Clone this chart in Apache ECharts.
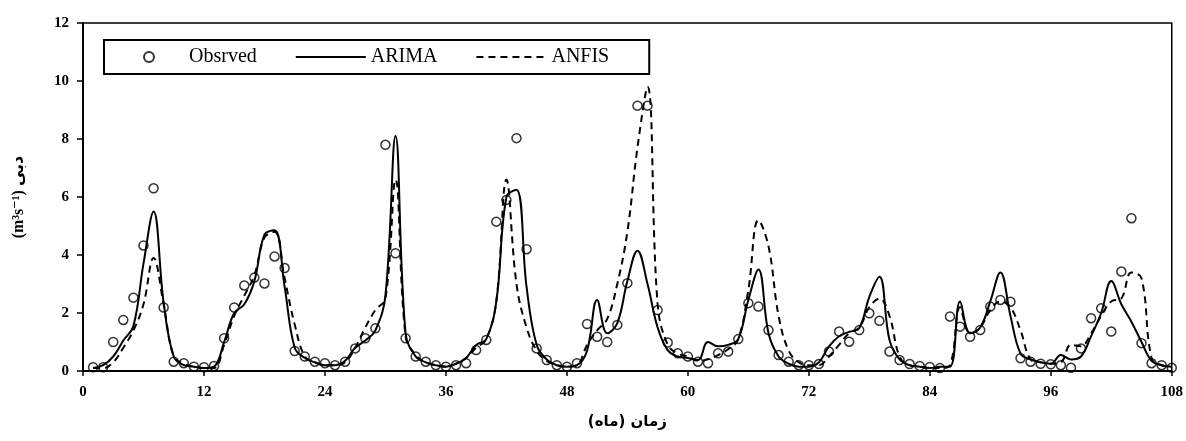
<!DOCTYPE html>
<html>
<head>
<meta charset="utf-8">
<script src="https://cdn.jsdelivr.net/npm/echarts@6/dist/echarts.min.js"></script>
<style>
  html, body { margin: 0; padding: 0; background: #fff; }
  #chart { width: 1186px; height: 441px; }
</style>
</head>
<body>
<div id="chart"></div>
<script>
// monthly discharge, months 1..108
const observed = [
  0.13, 0.13, 1.0, 1.76, 2.53, 4.33, 6.3, 2.19, 0.32, 0.27,
  0.15, 0.13, 0.17, 1.13, 2.19, 2.95, 3.22, 3.02, 3.95, 3.55,
  0.69, 0.5, 0.32, 0.27, 0.2, 0.32, 0.78, 1.13, 1.47, 7.8,
  4.06, 1.13, 0.5, 0.32, 0.2, 0.15, 0.2, 0.27, 0.72, 1.07,
  5.15, 5.9, 8.03, 4.2, 0.78, 0.38, 0.2, 0.15, 0.27, 1.62,
  1.18, 1.0, 1.59, 3.03, 9.15, 9.15, 2.1, 0.98, 0.61, 0.5,
  0.32, 0.27, 0.61, 0.67, 1.1, 2.34, 2.22, 1.41, 0.55, 0.32,
  0.2, 0.2, 0.24, 0.67, 1.36, 1.01, 1.41, 1.99, 1.73, 0.67,
  0.38, 0.24, 0.17, 0.14, 0.1, 1.88, 1.53, 1.18, 1.41, 2.22,
  2.45, 2.39, 0.44, 0.32, 0.25, 0.23, 0.2, 0.11, 0.78, 1.82,
  2.16, 1.36, 3.43, 5.27, 0.96, 0.27, 0.2, 0.11
]

const arima = [
  0.1, 0.2, 0.5, 1.05, 1.55, 3.7, 5.5, 2.35, 0.5, 0.2,
  0.15, 0.1, 0.15, 1.0, 2.0, 2.3, 3.1, 4.7, 4.85, 2.9,
  0.8, 0.45, 0.3, 0.2, 0.2, 0.35, 0.8, 1.05, 1.4, 2.6,
  8.1, 1.3, 0.5, 0.3, 0.2, 0.15, 0.25, 0.45, 0.9, 1.1,
  2.4, 6.0, 6.25, 2.9, 0.9, 0.4, 0.2, 0.15, 0.2, 0.7,
  2.45, 1.3, 1.65, 3.1, 4.15, 3.0, 1.5, 0.72, 0.5, 0.45,
  0.38, 1.0, 0.85, 0.9, 1.1, 2.45, 3.5, 1.3, 0.5, 0.25,
  0.15, 0.15, 0.3, 0.85, 1.2, 1.35, 1.48, 2.56, 3.25, 1.07,
  0.4, 0.2, 0.15, 0.1, 0.15, 0.15, 2.4, 1.3, 1.5, 2.4,
  3.4, 1.9, 0.6, 0.4, 0.3, 0.25, 0.55, 0.4, 0.5, 1.2,
  2.0, 3.1, 2.3, 1.7, 1.0, 0.35, 0.2, 0.15
]

const anfis = [
  0.1, 0.1, 0.3, 0.8, 1.4, 2.3, 3.9, 2.3, 0.5, 0.25,
  0.15, 0.1, 0.1, 0.9, 1.9, 2.6, 3.3, 4.6, 4.8, 3.2,
  1.6, 0.5, 0.3, 0.2, 0.2, 0.3, 0.8, 1.5, 2.1, 2.5,
  6.6, 1.2, 0.55, 0.3, 0.2, 0.15, 0.25, 0.45, 0.8, 1.1,
  2.4, 6.6, 3.0, 1.5, 0.7, 0.35, 0.2, 0.15, 0.2, 0.9,
  1.4, 1.8, 3.0, 4.8, 7.7, 9.8, 2.3, 0.9, 0.6, 0.5,
  0.35, 0.4, 0.55, 0.75, 1.1, 2.8, 5.2, 4.3, 1.9, 0.7,
  0.3, 0.2, 0.2, 0.5, 0.9, 1.3, 1.5, 2.2, 2.5, 1.9,
  0.5, 0.2, 0.15, 0.1, 0.1, 0.2, 2.2, 1.3, 1.5, 2.1,
  2.4, 2.2, 1.4, 0.4, 0.3, 0.25, 0.3, 0.9, 0.85, 1.3,
  1.9, 2.4, 2.5, 3.4, 3.2, 0.45, 0.2, 0.15
]

const xTicks = { min: 0, max: 108, step: 12 }
const yTicks = { min: 0, max: 12, step: 2 }

const serif = "'Liberation Serif', 'DejaVu Serif', 'DejaVu Sans', serif"

// pair each value with its month
const withMonth = (arr) => arr.map((v, i) => [i + 1, v])

const chart = echarts.init(document.getElementById('chart'))

chart.setOption({
  animation: false,
  backgroundColor: '#fff',
  grid: {
    left: 83, right: 14, top: 23, bottom: 70,
    show: true, borderColor: '#000', borderWidth: 1.5
  },
  legend: {
    left: 104, top: 40,
    padding: [7, 40, 7, 39],
    borderColor: '#000', borderWidth: 2,
    backgroundColor: '#fff',
    itemWidth: 70, itemHeight: 10, itemGap: 38,
    textStyle: { fontFamily: serif, fontSize: 20, color: '#000' },
    data: [
      { name: 'Obsrved' },
      // lines only in the key, no dot
      { name: 'ARIMA', itemStyle: { opacity: 0 } },
      { name: 'ANFIS', itemStyle: { opacity: 0 } }
    ]
  },
  xAxis: {
    type: 'value',
    min: xTicks.min, max: xTicks.max, interval: xTicks.step,
    name: 'زمان (ماه)',
    nameLocation: 'middle',
    nameGap: 44,
    nameTextStyle: { fontFamily: "'DejaVu Sans', sans-serif", fontSize: 15, fontWeight: 'bold', color: '#000' },
    axisLine: { lineStyle: { color: '#000', width: 2 } },
    axisTick: { show: true, length: 5, lineStyle: { color: '#000', width: 1.5 } },
    axisLabel: { margin: 14, fontFamily: serif, fontSize: 15, fontWeight: 'bold', color: '#000' },
    splitLine: { show: false }
  },
  yAxis: {
    type: 'value',
    min: yTicks.min, max: yTicks.max, interval: yTicks.step,
    name: '(m³s⁻¹) دبی',
    nameLocation: 'middle',
    nameGap: 56,
    nameTextStyle: { fontFamily: serif, fontSize: 16, fontWeight: 'bold', color: '#000' },
    axisLine: { show: true, lineStyle: { color: '#000', width: 2 } },
    axisTick: { show: true, length: 6, lineStyle: { color: '#000', width: 1.5 } },
    axisLabel: { margin: 14, fontFamily: serif, fontSize: 15, fontWeight: 'bold', color: '#000' },
    splitLine: { show: false }
  },
  series: [
    {
      name: 'ARIMA',
      type: 'line',
      data: withMonth(arima),
      smooth: 0.4,
      symbol: 'none',
      lineStyle: { color: '#000', width: 2 },
      itemStyle: { color: '#000' },
      z: 2
    },
    {
      name: 'ANFIS',
      type: 'line',
      data: withMonth(anfis),
      smooth: 0.4,
      symbol: 'none',
      lineStyle: { color: '#000', width: 2, type: [7, 5] },
      itemStyle: { color: '#000' },
      z: 3
    },
    {
      name: 'Obsrved',
      type: 'scatter',
      data: withMonth(observed),
      symbol: 'circle',
      symbolSize: 9,
      itemStyle: { color: 'rgba(255,255,255,0)', borderColor: '#000', borderWidth: 1.5 },
      z: 4
    }
  ]
})
</script>
</body>
</html>
